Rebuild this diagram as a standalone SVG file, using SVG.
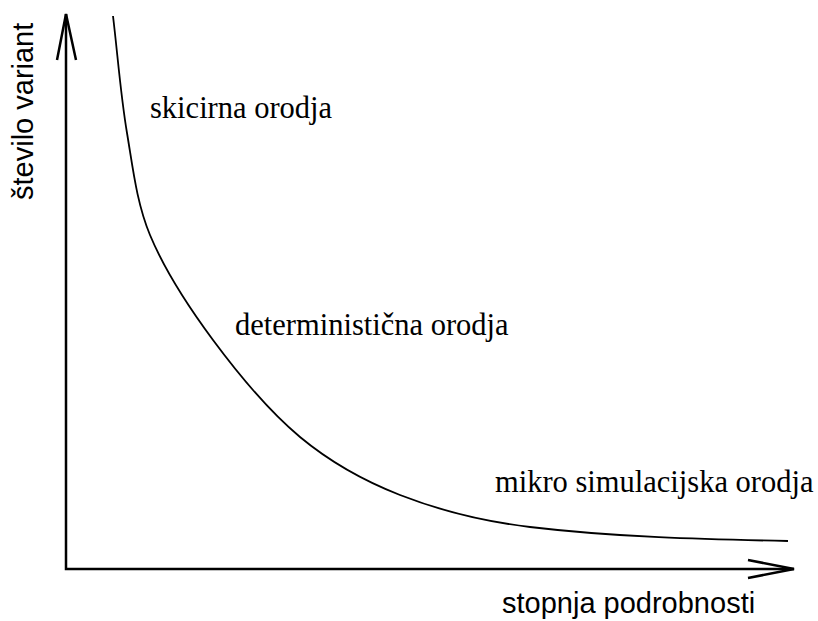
<svg xmlns="http://www.w3.org/2000/svg" width="818" height="621" viewBox="0 0 818 621">
<style>
.axis{fill:none;stroke:#000;stroke-width:2.5;stroke-linecap:butt;stroke-linejoin:miter}
.curve{fill:none;stroke:#000;stroke-width:1.8}
.serif{font-family:"Liberation Serif","Times New Roman",serif;font-size:30.5px;fill:#000}
.sans{font-family:"Liberation Sans",Arial,sans-serif;font-size:29px;fill:#000}
</style>
<rect width="818" height="621" fill="#fff"/>
<g id="connectors">
<path class="axis" d="M66,14 L66,569 L794,569"/>
<path class="axis" d="M57,60 L66,14 L76,60"/>
<path class="axis" d="M748,560 L794,569 L748,578"/>
<path class="curve" d="M113,16 C117.7,55 120.5,94.3 127,133 C132.8,167.4 136.6,202.8 150,235 C165.7,272.7 188.7,307.2 213,340 C238.9,374.9 266.6,409.3 300,437 C329.6,461.6 364.2,481 400,495 C441.5,511.2 485.7,521.7 530,527 C615.5,537.2 701.9,539.3 788,541"/>
</g>
<g id="label-skicirna"><text class="serif" x="150" y="118">skicirna orodja</text></g>
<g id="label-deterministicna"><text class="serif" x="235" y="335">deterministična orodja</text></g>
<g id="label-mikro"><text class="serif" x="495" y="492">mikro simulacijska orodja</text></g>
<g id="label-x"><text class="sans" x="502" y="613">stopnja podrobnosti</text></g>
<g id="label-y"><text class="sans" transform="translate(33,200) rotate(-90)">število variant</text></g>
</svg>
